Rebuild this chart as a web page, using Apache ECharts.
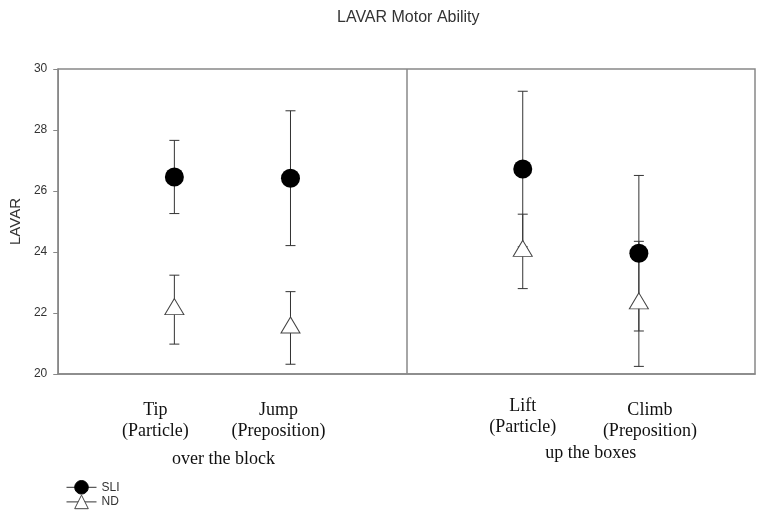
<!DOCTYPE html>
<html>
<head>
<meta charset="utf-8">
<script src="https://cdn.jsdelivr.net/npm/echarts@6/dist/echarts.min.js"></script>
<style>
  html, body { margin: 0; padding: 0; background: #fff; }
  #main { width: 764px; height: 515px; }
</style>
</head>
<body>
<div id="main"></div>
<script>
// data
var categories = ["Tip\n(Particle)", "Jump\n(Preposition)", "Lift\n(Particle)", "Climb\n(Preposition)"];
var xPos = [1, 2, 4, 5];
var groups = ["over the block", "up the boxes"];
var sliMean = [26.46, 26.42, 26.72, 23.96];
var sliErr = [1.2, 2.21, 2.55, 2.55];
var ndMean = [22.11, 21.51, 24.02, 22.3];
var ndErr = [1.13, 1.19, 1.22, 2.05];

var sans = "Liberation Sans";
var serif = "Liberation Serif";

// label nudges (px) to match the original layout
var labelDx = [-19, -12, 0, 11];
var labelDy = [0, 0, -4, 0];

function points(mean) {
  return xPos.map(function (x, i) { return [x, mean[i]]; });
}
function errData(mean, err) {
  return xPos.map(function (x, i) { return [x, mean[i] - err[i], mean[i] + err[i]]; });
}
// vertical bar with caps
function renderErr(params, api) {
  var x = api.value(0);
  var lo = api.coord([x, api.value(1)]);
  var hi = api.coord([x, api.value(2)]);
  var hw = 5;
  var st = { stroke: "#333", lineWidth: 1 };
  return {
    type: "group",
    children: [
      { type: "line", shape: { x1: lo[0], y1: lo[1], x2: hi[0], y2: hi[1] }, style: st },
      { type: "line", shape: { x1: lo[0] - hw, y1: lo[1], x2: lo[0] + hw, y2: lo[1] }, style: st },
      { type: "line", shape: { x1: hi[0] - hw, y1: hi[1], x2: hi[0] + hw, y2: hi[1] }, style: st }
    ]
  };
}

var option = {
  animation: false,
  title: {
    text: "LAVAR Motor Ability",
    left: 332,
    top: 5,
    textStyle: { fontFamily: sans, fontSize: 16, fontWeight: "normal", color: "#333" }
  },
  legend: {
    data: ["SLI", "ND"],
    orient: "vertical",
    left: 66,
    top: 480,
    padding: 0,
    itemWidth: 30,
    itemHeight: 17,
    itemGap: 0,
    itemStyle: { borderWidth: 1 },
    lineStyle: { width: 1, color: "#333", opacity: 1 },
    textStyle: { fontFamily: sans, fontSize: 12, color: "#333" }
  },
  grid: {
    left: 56, right: 9, top: 69, bottom: 141,
    show: true, borderColor: "#888", borderWidth: 1.5
  },
  xAxis: {
    type: "value",
    min: 0, max: 6, interval: 1,
    splitLine: { show: false },
    axisTick: { show: false },
    axisLabel: { show: false },
    axisLine: { show: true, lineStyle: { color: "#888", width: 1.5 } }
  },
  yAxis: {
    type: "value",
    min: 20, max: 30, interval: 2,
    name: "LAVAR",
    nameLocation: "middle",
    nameGap: 34,
    nameTextStyle: { fontFamily: sans, fontSize: 15, color: "#333" },
    splitLine: { show: false },
    axisLine: { show: true, lineStyle: { color: "#888", width: 1.5 } },
    axisTick: { show: true, inside: false, length: 5, lineStyle: { color: "#888" } },
    axisLabel: { margin: 11, fontFamily: sans, fontSize: 12, color: "#333" }
  },
  series: [
    {
      type: "custom", name: "SLI err", renderItem: renderErr,
      data: errData(sliMean, sliErr), z: 1, silent: true,
      markLine: {
        silent: true, symbol: "none",
        label: { show: false },
        lineStyle: { color: "#888", width: 1.5, type: "solid" },
        data: [{ xAxis: 3 }]
      }
    },
    { type: "custom", name: "ND err", renderItem: renderErr, data: errData(ndMean, ndErr), z: 1, silent: true },
    {
      type: "line", name: "ND", data: points(ndMean), z: 3,
      symbol: "triangle", symbolSize: [19, 16], symbolOffset: [0, -3], showAllSymbol: true,
      lineStyle: { width: 0, opacity: 0 },
      itemStyle: { color: "#fff", borderColor: "#444", borderWidth: 1 }
    },
    {
      type: "line", name: "SLI", data: points(sliMean), z: 4,
      symbol: "circle", symbolSize: 19, showAllSymbol: true,
      lineStyle: { width: 0, opacity: 0 },
      itemStyle: { color: "#000", borderColor: "#000", borderWidth: 0 }
    }
  ]
};

var myChart = echarts.init(document.getElementById("main"));
myChart.setOption(option);

// category and group labels under the axis, placed from the x scale
var labelFont = "18px " + serif;
var graphics = categories.map(function (c, i) {
  var px = myChart.convertToPixel({ gridIndex: 0 }, [xPos[i], 20]);
  return {
    type: "text",
    x: px[0] + labelDx[i],
    y: 400 + labelDy[i],
    style: { text: c, font: labelFont, fill: "#111", align: "center", verticalAlign: "top", lineHeight: 21 }
  };
});
var g0 = myChart.convertToPixel({ gridIndex: 0 }, [1.5, 20]);
var g1 = myChart.convertToPixel({ gridIndex: 0 }, [4.5, 20]);
graphics.push({
  type: "text", x: g0[0] - 9, y: 450,
  style: { text: groups[0], font: labelFont, fill: "#111", align: "center", verticalAlign: "top" }
});
graphics.push({
  type: "text", x: g1[0] + 10, y: 444,
  style: { text: groups[1], font: labelFont, fill: "#111", align: "center", verticalAlign: "top" }
});
myChart.setOption({ graphic: graphics });
</script>
</body>
</html>
